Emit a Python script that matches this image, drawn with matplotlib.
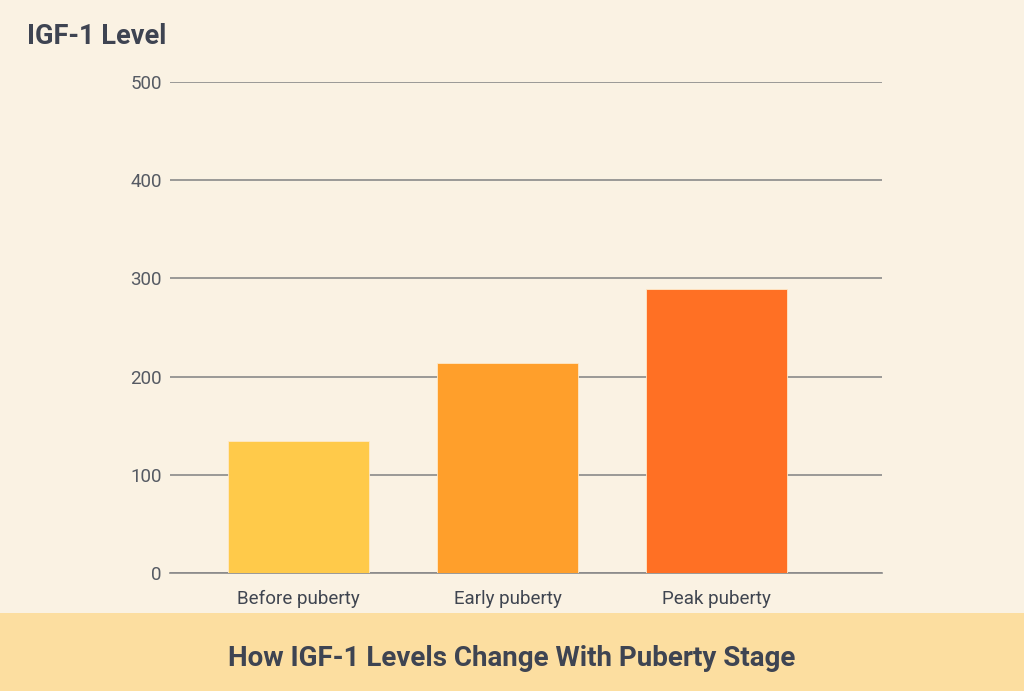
import matplotlib
matplotlib.use("Agg")
import matplotlib.pyplot as plt
from matplotlib.patches import Rectangle

categories = ["Before puberty", "Early puberty", "Peak puberty"]
values = [134, 214, 289]
colors = ["#FFCA4A", "#FF9F2B", "#FF7024"]
yticks = [0, 100, 200, 300, 400, 500]

plt.rcParams['font.family'] = ['Roboto', 'DejaVu Sans']

W, H = 1024, 691
fig = plt.figure(figsize=(W/100, H/100), dpi=100)
fig.patch.set_facecolor("#FAF2E3")

ax = fig.add_axes([170/W, 1-573/H, (882-170)/W, (573-82)/H])
ax.set_facecolor("none")
x = list(range(len(categories)))
ax.bar(x, values, width=0.675, color=colors, edgecolor="#FFE9C8", linewidth=0.6, zorder=3)
ax.set_xlim(-0.615, 2.79)
ax.set_ylim(0, 500)
ax.set_yticks(yticks)
ax.set_yticklabels([str(t) for t in yticks], fontsize=13.5, color="#555A63")
ax.set_xticks(x)
ax.set_xticklabels(categories, fontsize=13.5, color="#3F4550")
ax.tick_params(axis='both', length=0)
ax.tick_params(axis='y', pad=6)
ax.tick_params(axis='x', pad=12)
ax.grid(axis='y', color="#8A8A8A", linewidth=1.2, zorder=0)
for s in ["top", "right", "left"]:
    ax.spines[s].set_visible(False)
ax.spines["bottom"].set_color("#8A8A8A")
ax.spines["bottom"].set_linewidth(1.2)

fig.text(27/W, 1-36/H, "IGF-1 Level", fontsize=19.5, fontweight='bold', color="#3E4452",
         ha='left', va='center')

fig.patches.append(Rectangle((0, 0), 1, (H-613)/H, transform=fig.transFigure,
                             facecolor="#FCDEA0", edgecolor='none', zorder=0))
fig.text(0.5, 1-658/H, "How IGF-1 Levels Change With Puberty Stage", fontsize=20,
         fontweight='bold', color="#3E4452", ha='center', va='center')

fig.savefig("out.png", dpi=100, facecolor=fig.get_facecolor())
